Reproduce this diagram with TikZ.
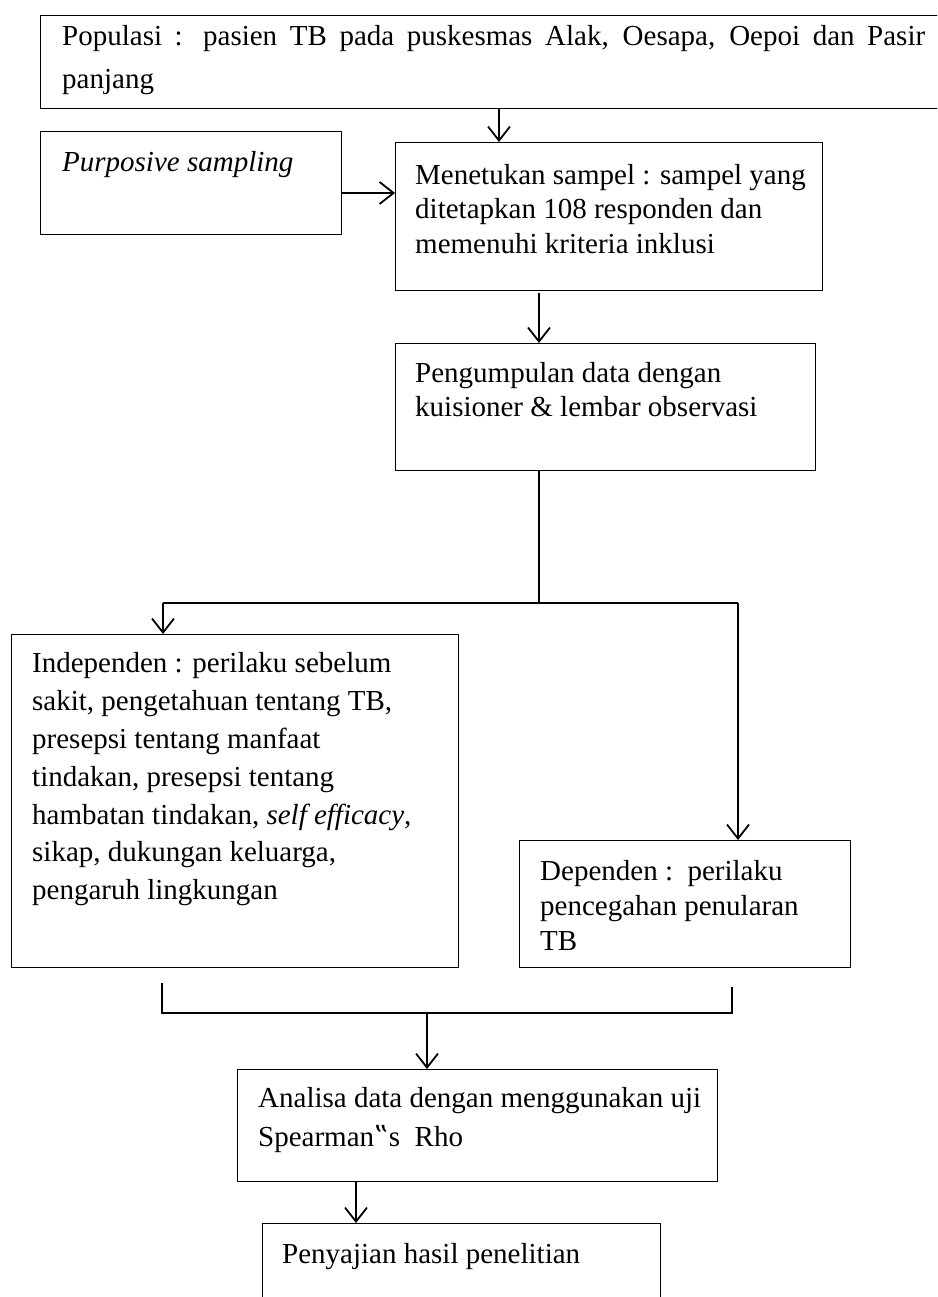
\documentclass[tikz,border=0pt]{standalone}
\usepackage{fontspec}
\setmainfont{Liberation Serif}
\newfontfamily\quotefont{DejaVu Serif}
\usetikzlibrary{arrows.meta}
\begin{document}
\begin{tikzpicture}[x=1pt,y=-1pt,
  box/.style={draw, line width=1.2pt, inner sep=0pt, anchor=north west},
  txt/.style={anchor=base west, inner sep=0pt, font=\fontsize{29}{34}\selectfont},
  conn/.style={line width=1.8pt},
  arr/.style={conn, -{Straight Barb[length=14pt,width=22pt,line width=1.8pt]}}
]
\useasboundingbox (0,0) rectangle (937,1297);
\clip (0,0) rectangle (937,1297);

% boxes
\node[box, minimum width=920pt, minimum height=93pt] (top) at (40,15) {};
\node[box, minimum width=301pt, minimum height=103pt] (purp) at (40,131) {};
\node[box, minimum width=427pt, minimum height=148pt] (ment) at (395,142) {};
\node[box, minimum width=420pt, minimum height=127pt] (peng) at (395,343) {};
\node[box, minimum width=447pt, minimum height=333pt] (indep) at (11,634) {};
\node[box, minimum width=331pt, minimum height=127pt] (dep) at (519,840) {};
\node[box, minimum width=480pt, minimum height=112pt] (anal) at (237,1069) {};
\node[box, minimum width=398pt, minimum height=120pt] (peny) at (262,1223) {};

% texts
\node[txt] (t1) at (62,46) {\makebox[863pt][s]{Populasi : pasien TB pada puskesmas Alak, Oesapa, Oepoi dan Pasir}};
\node[txt] (t2) at (62,89) {panjang};
\node[txt] (p1) at (62,172) {\textit{Purposive sampling}};
\node[txt] (m1) at (415,185) {Menetukan sampel : sampel yang};
\node[txt] (m2) at (415,219) {ditetapkan 108 responden dan};
\node[txt] (m3) at (415,253) {memenuhi kriteria inklusi};
\node[txt] (g1) at (415,382) {Pengumpulan data dengan};
\node[txt] (g2) at (415,416) {kuisioner \& lembar observasi};
\node[txt] (i1) at (32,672) {Independen : perilaku sebelum};
\node[txt] (i2) at (32,710) {sakit, pengetahuan tentang TB,};
\node[txt] (i3) at (32,748) {presepsi tentang manfaat};
\node[txt] (i4) at (32,786) {tindakan, presepsi tentang};
\node[txt] (i5) at (32,824) {hambatan tindakan, \textit{self efficacy},};
\node[txt] (i6) at (32,861) {sikap, dukungan keluarga,};
\node[txt] (i7) at (32,899) {pengaruh lingkungan};
\node[txt] (d1) at (540,880) {Dependen :\ \ perilaku};
\node[txt] (d2) at (540,915) {pencegahan penularan};
\node[txt] (d3) at (540,950) {TB};
\node[txt] (a1) at (258,1107) {Analisa data dengan menggunakan uji};
\node[txt] (a2) at (258,1146) {Spearman{\quotefont ‟}s\ \ Rho};
\node[txt] (y1) at (282,1263) {Penyajian hasil penelitian};

% junction coordinates
\coordinate (s1) at (539,603);
\coordinate (jl) at (163,603);
\coordinate (jr) at (738,603);
\coordinate (bl) at (162,983);
\coordinate (br) at (732,987);
\coordinate (ml) at (162,1013);
\coordinate (mr) at (732,1013);
\coordinate (mc) at (427,1013);

% connectors
\draw[arr] (top.south -| 499,0) -- (ment.north -| 499,0);
\draw[arr] (purp.east |- 0,193) -- (ment.west |- 0,193);
\draw[arr] (539,293) -- (peng.north -| 539,0);
\draw[conn] (peng.south -| s1) -- (s1);
\draw[conn] (jl) -- (jr);
\draw[arr] (jl) -- (indep.north -| jl);
\draw[arr] (jr) -- (dep.north -| jr);
\draw[conn] (bl) -- (ml) -- (mr) -- (br);
\draw[arr] (mc) -- (anal.north -| mc);
\draw[arr] (anal.south -| 356,0) -- (peny.north -| 356,0);
\end{tikzpicture}
\end{document}
